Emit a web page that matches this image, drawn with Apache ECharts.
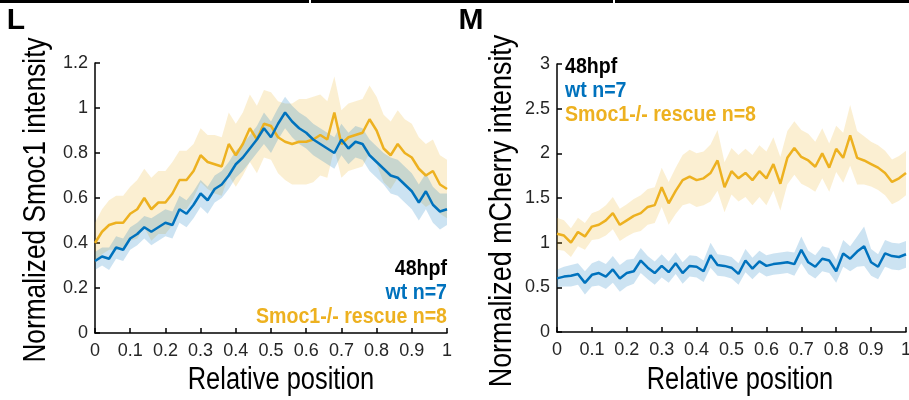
<!DOCTYPE html>
<html>
<head>
<meta charset="utf-8">
<script src="https://cdn.jsdelivr.net/npm/echarts@6/dist/echarts.min.js"></script>
<style>
html, body { margin: 0; padding: 0; background: #fff; }
#main { width: 909px; height: 400px; }
</style>
</head>
<body>
<div id="main"></div>
<script>
// relative position along the tissue
var position = [0, 0.02, 0.04, 0.06, 0.08, 0.1, 0.12, 0.14, 0.16, 0.18,
    0.2, 0.22, 0.24, 0.26, 0.28, 0.3, 0.32, 0.34, 0.36, 0.38,
    0.4, 0.42, 0.44, 0.46, 0.48, 0.5, 0.52, 0.54, 0.56, 0.58,
    0.6, 0.62, 0.64, 0.66, 0.68, 0.7, 0.72, 0.74, 0.76, 0.78,
    0.8, 0.82, 0.84, 0.86, 0.88, 0.9, 0.92, 0.94, 0.96, 0.98, 1];

// panel L - normalized Smoc1 intensity
var smocWt = [0.32, 0.34, 0.33, 0.38, 0.37, 0.42, 0.44, 0.47, 0.45, 0.47,
    0.49, 0.48, 0.55, 0.53, 0.57, 0.62, 0.59, 0.64, 0.66, 0.70,
    0.75, 0.78, 0.82, 0.86, 0.91, 0.87, 0.93, 0.98, 0.94, 0.91,
    0.89, 0.86, 0.84, 0.82, 0.80, 0.86, 0.82, 0.85, 0.84, 0.79,
    0.76, 0.73, 0.70, 0.69, 0.66, 0.63, 0.58, 0.63, 0.57, 0.54, 0.55];
var smocWtErr = [0.04, 0.04, 0.05, 0.05, 0.05, 0.05, 0.05, 0.05, 0.06, 0.06,
    0.06, 0.06, 0.06, 0.06, 0.06, 0.06, 0.06, 0.06, 0.06, 0.06,
    0.06, 0.06, 0.06, 0.06, 0.07, 0.07, 0.07, 0.07, 0.07, 0.07,
    0.07, 0.07, 0.07, 0.07, 0.07, 0.07, 0.07, 0.07, 0.07, 0.07,
    0.07, 0.07, 0.08, 0.08, 0.08, 0.08, 0.08, 0.08, 0.08, 0.08, 0.07];
var smocRescue = [0.40, 0.45, 0.48, 0.49, 0.49, 0.53, 0.55, 0.60, 0.55, 0.58,
    0.58, 0.62, 0.68, 0.68, 0.72, 0.79, 0.76, 0.75, 0.74, 0.84,
    0.79, 0.84, 0.91, 0.86, 0.93, 0.92, 0.87, 0.85, 0.84, 0.85,
    0.85, 0.86, 0.88, 0.86, 0.98, 0.84, 0.87, 0.88, 0.89, 0.95,
    0.90, 0.82, 0.79, 0.84, 0.80, 0.78, 0.73, 0.70, 0.72, 0.66, 0.64];
var smocRescueErr = [0.09, 0.10, 0.11, 0.12, 0.12, 0.12, 0.13, 0.13, 0.14, 0.14,
    0.14, 0.14, 0.13, 0.13, 0.12, 0.12, 0.12, 0.13, 0.13, 0.14,
    0.14, 0.14, 0.15, 0.15, 0.15, 0.15, 0.16, 0.17, 0.18, 0.19,
    0.19, 0.19, 0.18, 0.17, 0.16, 0.15, 0.15, 0.15, 0.15, 0.15,
    0.15, 0.15, 0.15, 0.15, 0.15, 0.15, 0.14, 0.14, 0.14, 0.13, 0.13];

// panel M - normalized mCherry intensity
var cherryWt = [0.60, 0.62, 0.63, 0.65, 0.55, 0.64, 0.66, 0.62, 0.70, 0.60,
    0.66, 0.68, 0.80, 0.72, 0.66, 0.74, 0.67, 0.77, 0.66, 0.74,
    0.73, 0.68, 0.86, 0.75, 0.74, 0.72, 0.65, 0.80, 0.71, 0.79,
    0.74, 0.76, 0.77, 0.78, 0.76, 0.92, 0.78, 0.73, 0.82, 0.80,
    0.68, 0.88, 0.82, 0.90, 0.96, 0.78, 0.73, 0.88, 0.85, 0.84, 0.87];
var cherryWtErr = [0.10, 0.11, 0.12, 0.12, 0.13, 0.13, 0.14, 0.14, 0.15, 0.15,
    0.15, 0.14, 0.14, 0.13, 0.13, 0.13, 0.12, 0.12, 0.12, 0.12,
    0.12, 0.12, 0.14, 0.12, 0.12, 0.12, 0.12, 0.13, 0.12, 0.12,
    0.12, 0.12, 0.12, 0.12, 0.13, 0.15, 0.13, 0.13, 0.14, 0.14,
    0.13, 0.15, 0.14, 0.17, 0.22, 0.15, 0.14, 0.15, 0.15, 0.15, 0.15];
var cherryRescue = [1.10, 1.08, 1.00, 1.12, 1.07, 1.18, 1.20, 1.25, 1.33, 1.20,
    1.25, 1.30, 1.33, 1.40, 1.42, 1.62, 1.44, 1.58, 1.70, 1.74,
    1.70, 1.72, 1.78, 1.92, 1.62, 1.80, 1.72, 1.78, 1.70, 1.80,
    1.72, 1.88, 1.66, 1.95, 2.06, 1.96, 1.92, 1.85, 2.00, 1.84,
    2.05, 1.95, 2.20, 1.95, 1.92, 1.88, 1.84, 1.78, 1.68, 1.72, 1.78];
var cherryRescueErr = [0.18, 0.17, 0.16, 0.16, 0.15, 0.15, 0.16, 0.17, 0.18, 0.18,
    0.18, 0.19, 0.20, 0.20, 0.20, 0.22, 0.24, 0.26, 0.28, 0.30,
    0.30, 0.30, 0.32, 0.34, 0.28, 0.26, 0.26, 0.27, 0.28, 0.29,
    0.30, 0.30, 0.30, 0.30, 0.30, 0.30, 0.30, 0.28, 0.28, 0.27,
    0.26, 0.28, 0.34, 0.30, 0.27, 0.25, 0.25, 0.25, 0.25, 0.25, 0.25];

var blue = '#0072BD';
var orange = '#EDB120';
var fontName = "'Liberation Sans', Arial, sans-serif";

var chart = echarts.init(document.getElementById('main'));

// shaded band = invisible lower line + stacked band width
function bandSeries(stackName, g, mean, err, color) {
    return [{
        type: 'line', xAxisIndex: g, yAxisIndex: g, stack: stackName,
        symbol: 'none', silent: true, lineStyle: { opacity: 0 },
        data: mean.map(function (m, i) { return m - err[i]; })
    }, {
        type: 'line', xAxisIndex: g, yAxisIndex: g, stack: stackName,
        symbol: 'none', silent: true, lineStyle: { opacity: 0 },
        areaStyle: { color: color, opacity: 0.2 },
        data: err.map(function (e) { return 2 * e; })
    }];
}

function meanSeries(g, mean, color) {
    return {
        type: 'line', xAxisIndex: g, yAxisIndex: g, symbol: 'none',
        lineStyle: { color: color, width: 2.5 },
        data: mean
    };
}

function xAxisOf(g) {
    return {
        type: 'category', gridIndex: g, boundaryGap: false,
        data: position.map(String),
        axisLine: { lineStyle: { color: '#000', width: 1.5 } },
        axisTick: { inside: true, length: 5, interval: 4, lineStyle: { color: '#000', width: 1.5 } },
        axisLabel: { interval: 4, fontFamily: fontName, fontSize: 18, color: '#262626', margin: 9 },
        splitLine: { show: false }
    };
}

function yAxisOf(g, max, interval) {
    return {
        type: 'value', gridIndex: g, min: 0, max: max, interval: interval,
        axisLine: { show: true, lineStyle: { color: '#000', width: 1.5 } },
        axisTick: { show: true, inside: true, length: 5, lineStyle: { color: '#000', width: 1.5 } },
        axisLabel: { fontFamily: fontName, fontSize: 18, color: '#262626', margin: 7 },
        splitLine: { show: false }
    };
}

function label(text, x, y, opts) {
    var style = { text: text, font: (opts.weight || 'normal') + ' ' + opts.size + 'px ' + fontName,
        fill: opts.color || '#000', align: opts.align || 'center', verticalAlign: 'middle' };
    return { type: 'text', x: x, y: y, rotation: opts.rotation || 0, scaleX: opts.scaleX || 1, style: style };
}

var series = [].concat(
    bandSeries('smocR', 0, smocRescue, smocRescueErr, orange),
    bandSeries('smocW', 0, smocWt, smocWtErr, blue),
    [meanSeries(0, smocRescue, orange), meanSeries(0, smocWt, blue)],
    bandSeries('cherR', 1, cherryRescue, cherryRescueErr, orange),
    bandSeries('cherW', 1, cherryWt, cherryWtErr, blue),
    [meanSeries(1, cherryRescue, orange), meanSeries(1, cherryWt, blue)]
);

var option = {
    animation: false,
    backgroundColor: '#fff',
    grid: [
        { left: 95, right: 462, top: 63, bottom: 67, outerBoundsMode: 'none' },
        { left: 557, right: 3, top: 64, bottom: 68, outerBoundsMode: 'none' }
    ],
    xAxis: [xAxisOf(0), xAxisOf(1)],
    yAxis: [yAxisOf(0, 1.2, 0.2), yAxisOf(1, 3, 0.5)],
    series: series,
    graphic: [
        { type: 'rect', shape: { x: 0, y: 0, width: 309, height: 3 }, style: { fill: '#000' } },
        { type: 'rect', shape: { x: 311, y: 0, width: 302, height: 3 }, style: { fill: '#000' } },
        { type: 'rect', shape: { x: 615, y: 0, width: 294, height: 3 }, style: { fill: '#000' } },
        label('L', 16, 21, { size: 30, weight: 'bold' }),
        label('M', 471, 21, { size: 30, weight: 'bold' }),
        // axis titles
        label('Relative position', 281, 380, { size: 31, scaleX: 0.82 }),
        label('Relative position', 740, 380, { size: 31, scaleX: 0.82 }),
        label('Normalized Smoc1 intensity', 36, 200, { size: 32, scaleX: 0.82, rotation: Math.PI / 2 }),
        label('Normalized mCherry intensity', 502, 211, { size: 32, scaleX: 0.84, rotation: Math.PI / 2 }),
        // panel L legend
        label('48hpf', 447, 269, { size: 22, weight: 'bold', align: 'right', scaleX: 0.89 }),
        label('wt n=7', 447, 293, { size: 22, weight: 'bold', align: 'right', scaleX: 0.89, color: blue }),
        label('Smoc1-/- rescue n=8', 447, 317, { size: 22, weight: 'bold', align: 'right', scaleX: 0.89, color: orange }),
        // panel M legend
        label('48hpf', 565, 67, { size: 22, weight: 'bold', align: 'left', scaleX: 0.89 }),
        label('wt n=7', 565, 91, { size: 22, weight: 'bold', align: 'left', scaleX: 0.89, color: blue }),
        label('Smoc1-/- rescue n=8', 565, 115, { size: 22, weight: 'bold', align: 'left', scaleX: 0.89, color: orange })
    ]
};
chart.setOption(option);
</script>
</body>
</html>
